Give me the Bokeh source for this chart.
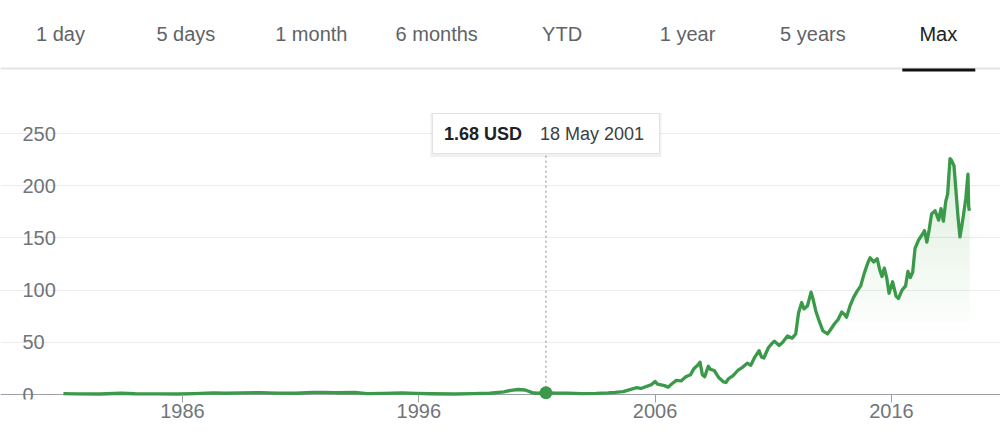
import numpy as np
from bokeh.plotting import figure
from bokeh.layouts import column
from bokeh.models import Range1d, FixedTicker, Grid, Span, LabelSet, ColumnDataSource
from bokeh.core.properties import value
from bokeh.embed import file_html
from bokeh.resources import INLINE

# ---------------- data ----------------
tabs = ["1 day", "5 days", "1 month", "6 months", "YTD", "1 year", "5 years", "Max"]
active_tab = "Max"

years = [
    1980.96, 1981.5, 1982.5, 1983.4, 1984.0, 1985.0, 1985.8, 1986.5, 1987.3, 1987.8,
    1988.5, 1989.3, 1990.0, 1990.8, 1991.5, 1992.0, 1992.5, 1993.3, 1993.8, 1994.5,
    1995.3, 1995.9, 1996.5, 1997.5, 1998.3, 1999.0, 1999.6, 1999.9, 2000.2, 2000.5,
    2000.8, 2001.0, 2001.38, 2001.8, 2002.3, 2002.9, 2003.5, 2004.0, 2004.3, 2004.65,
    2004.9, 2005.2, 2005.4, 2005.6, 2005.85, 2006.0, 2006.1, 2006.4, 2006.55, 2006.7,
    2006.9, 2007.1, 2007.3, 2007.5, 2007.65, 2007.8, 2007.9, 2008.0, 2008.1, 2008.25,
    2008.35, 2008.5, 2008.7, 2008.9, 2009.0, 2009.1, 2009.3, 2009.5, 2009.7, 2009.9,
    2010.05, 2010.2, 2010.4, 2010.5, 2010.6, 2010.8, 2010.95, 2011.05, 2011.25, 2011.4,
    2011.6, 2011.8, 2011.95, 2012.07, 2012.2, 2012.3, 2012.45, 2012.6, 2012.7, 2012.8,
    2012.95, 2013.1, 2013.3, 2013.45, 2013.6, 2013.75, 2013.9, 2014.0, 2014.1, 2014.25,
    2014.4, 2014.55, 2014.7, 2014.85, 2015.0, 2015.1, 2015.25, 2015.4, 2015.5, 2015.6,
    2015.7, 2015.8, 2015.9, 2016.05, 2016.2, 2016.3, 2016.45, 2016.6, 2016.7, 2016.8,
    2016.9, 2017.0, 2017.15, 2017.3, 2017.4, 2017.5, 2017.6, 2017.7, 2017.85, 2018.0,
    2018.1, 2018.2, 2018.3, 2018.38, 2018.48, 2018.55, 2018.65, 2018.75, 2018.82, 2018.9,
    2018.97, 2019.05, 2019.15, 2019.24, 2019.27, 2019.3,
]
prices = [
    0.9, 0.6, 0.5, 1.2, 0.7, 0.6, 0.5, 0.8, 1.5, 1.2,
    1.6, 1.8, 1.4, 1.2, 2.1, 2.0, 1.7, 1.9, 0.9, 1.1,
    1.5, 1.0, 0.7, 0.5, 0.8, 1.2, 2.5, 4.0, 4.8, 4.3,
    1.8, 1.2, 1.68, 1.4, 1.3, 0.9, 1.0, 1.5, 2.0, 2.8,
    4.5, 6.5, 5.8, 7.5, 9.5, 12.5, 10.0, 8.5, 7.0, 10.0,
    13.5, 13.0, 17.0, 19.0, 25.0, 28.0, 31.0, 19.0, 17.0, 27.0,
    24.0, 23.0, 16.0, 12.0, 11.5, 15.0, 18.0, 23.0, 26.0, 30.0,
    28.0, 35.0, 42.0, 36.0, 35.0, 45.0, 49.0, 51.0, 47.0, 50.0,
    56.0, 54.0, 58.0, 78.0, 88.0, 82.0, 85.0, 98.0, 90.0, 80.0,
    70.0, 61.0, 58.0, 63.0, 68.0, 72.0, 79.0, 77.0, 74.0, 85.0,
    93.0, 99.0, 104.0, 116.0, 126.0, 131.0, 127.0, 130.0, 120.0, 113.0,
    121.0, 112.0, 97.0, 108.0, 94.0, 92.0, 100.0, 104.0, 118.0, 112.0,
    117.0, 140.0, 148.0, 153.0, 157.0, 146.0, 158.0, 173.0, 176.0, 167.0,
    178.0, 166.0, 185.0, 192.0, 226.0, 224.0, 219.0, 190.0, 170.0, 151.0,
    160.0, 172.0, 188.0, 211.0, 180.0, 176.0,
]

x_ticks = [1986, 1996, 2006, 2016]
x_tick_labels = ["1986", "1996", "2006", "2016"]
y_ticks = [0, 50, 100, 150, 200, 250]
y_tick_labels = ["0", "50", "100", "150", "200", "250"]

hover_year = 2001.38
hover_price = 1.68
hover_date_label = "18 May 2001"
currency = "USD"

# ---------------- style ----------------
FONT = value("Liberation Sans")
GREEN = "#3b9a4a"
LABEL_GRAY = "#70757a"
AXIS_GRAY = "#9aa0a6"

W = 1000
HDR_H = 72
CHART_H = 373

# ---------------- tabs header ----------------
hdr = figure(width=W, height=HDR_H, x_range=Range1d(0, W), y_range=Range1d(HDR_H, 0),
             toolbar_location=None, output_backend="svg", min_border=0,
             x_axis_location=None, y_axis_location=None, outline_line_color=None)
hdr.grid.visible = False
tab_x = [60 + i * 125.4 for i in range(len(tabs))]
inactive = [i for i, t in enumerate(tabs) if t != active_tab]
active = tabs.index(active_tab)
hdr.text(x=[tab_x[i] for i in inactive], y=[33] * len(inactive), text=[tabs[i] for i in inactive],
         text_align="center", text_baseline="middle", text_font=FONT,
         text_font_size="20px", text_color="#5f6368")
hdr.text(x=[tab_x[active]], y=[33], text=[tabs[active]],
         text_align="center", text_baseline="middle", text_font=FONT,
         text_font_size="20px", text_color="#202124")
hdr.add_layout(Span(location=68, dimension="width", line_color="#e4e4e4", line_width=2,
                    level="underlay"))
hdr.segment(x0=[tab_x[active] - 36], x1=[tab_x[active] + 37], y0=[69.5], y1=[69.5],
            line_color="#111111", line_width=3)

# ---------------- chart ----------------
px_per_year = 23.63
px_per_unit = 1.044
zero_px = 394 - HDR_H          # baseline position inside chart figure
frame_bottom_px = 399 - HDR_H
x_start = 1986 - 182 / px_per_year
x_end = x_start + W / px_per_year
y_end = zero_px / px_per_unit
y_start = -(frame_bottom_px - zero_px) / px_per_unit

p = figure(width=W, height=CHART_H, x_range=Range1d(x_start, x_end), y_range=Range1d(y_start, y_end),
           toolbar_location=None, output_backend="svg",
           min_border_left=0, min_border_right=0, min_border_top=0,
           min_border_bottom=CHART_H - frame_bottom_px,
           y_axis_location=None, outline_line_color=None)
p.grid.visible = False

p.add_layout(Grid(dimension=1, ticker=FixedTicker(ticks=y_ticks[1:]),
                  grid_line_color="#ececec", grid_line_width=1,
                  bounds=(x_start + 60 / px_per_year, x_start + 975 / px_per_year)))
# baseline at zero
p.add_layout(Grid(dimension=1, ticker=FixedTicker(ticks=y_ticks[:1]),
                  grid_line_color=AXIS_GRAY, grid_line_width=1,
                  bounds=(x_start + 33 / px_per_year, x_start + 982 / px_per_year)))

ax = p.xaxis[0]
ax.ticker = FixedTicker(ticks=x_ticks)
ax.axis_line_color = None
ax.major_tick_line_color = AXIS_GRAY
ax.major_tick_in = frame_bottom_px - zero_px
ax.major_tick_out = 3
ax.minor_tick_line_color = None
ax.major_label_standoff = 1
ax.major_label_text_font = "Liberation Sans"
ax.major_label_text_font_size = "20px"
ax.major_label_text_color = LABEL_GRAY

# y tick labels (left aligned, Google style)
ylab_src = ColumnDataSource(dict(x=[x_start] * len(y_ticks), y=y_ticks, text=y_tick_labels))
p.add_layout(LabelSet(x="x", y="y", text="text", source=ylab_src, x_offset=22,
                      text_align="left", text_baseline="middle", text_font=FONT,
                      text_font_size="20px", text_color=LABEL_GRAY))

# gradient-like fill under the line
yarr = np.array(prices)
for L in np.arange(60, 230, 10):
    p.varea(x=years, y1=np.minimum(yarr, L), y2=yarr, fill_color=GREEN, fill_alpha=0.013)

p.line(years, prices, line_color=GREEN, line_width=3.3, line_join="round")

# hover indicator
tip_y = y_ticks[-1]
p.segment(x0=[hover_year], x1=[hover_year], y0=[hover_price], y1=[tip_y],
          line_color="#8a8a8a", line_width=1, line_dash="2 3")
p.scatter(x=[hover_year], y=[hover_price], size=13, fill_color=GREEN, line_color=None)

p.rect(x=[hover_year], y=[tip_y - 1.5], width=231, height=44, width_units="screen",
       height_units="screen", fill_color="#000000", fill_alpha=0.06, line_color=None)
p.rect(x=[hover_year], y=[tip_y], width=227, height=40, width_units="screen",
       height_units="screen", fill_color="white", line_color="#e2e2e2", line_width=1)
p.text(x=[hover_year], y=[tip_y], text=[f"{hover_price:.2f} {currency}"], x_offset=-102,
       text_align="left", text_baseline="middle", text_font=FONT,
       text_font_size="18px", text_font_style="bold", text_color="#202124")
p.text(x=[hover_year], y=[tip_y], text=[hover_date_label], x_offset=-6,
       text_align="left", text_baseline="middle", text_font=FONT,
       text_font_size="18px", text_color="#3c4043")

layout = column(hdr, p, spacing=0)
open("out.html", "w").write(file_html(layout, INLINE))
